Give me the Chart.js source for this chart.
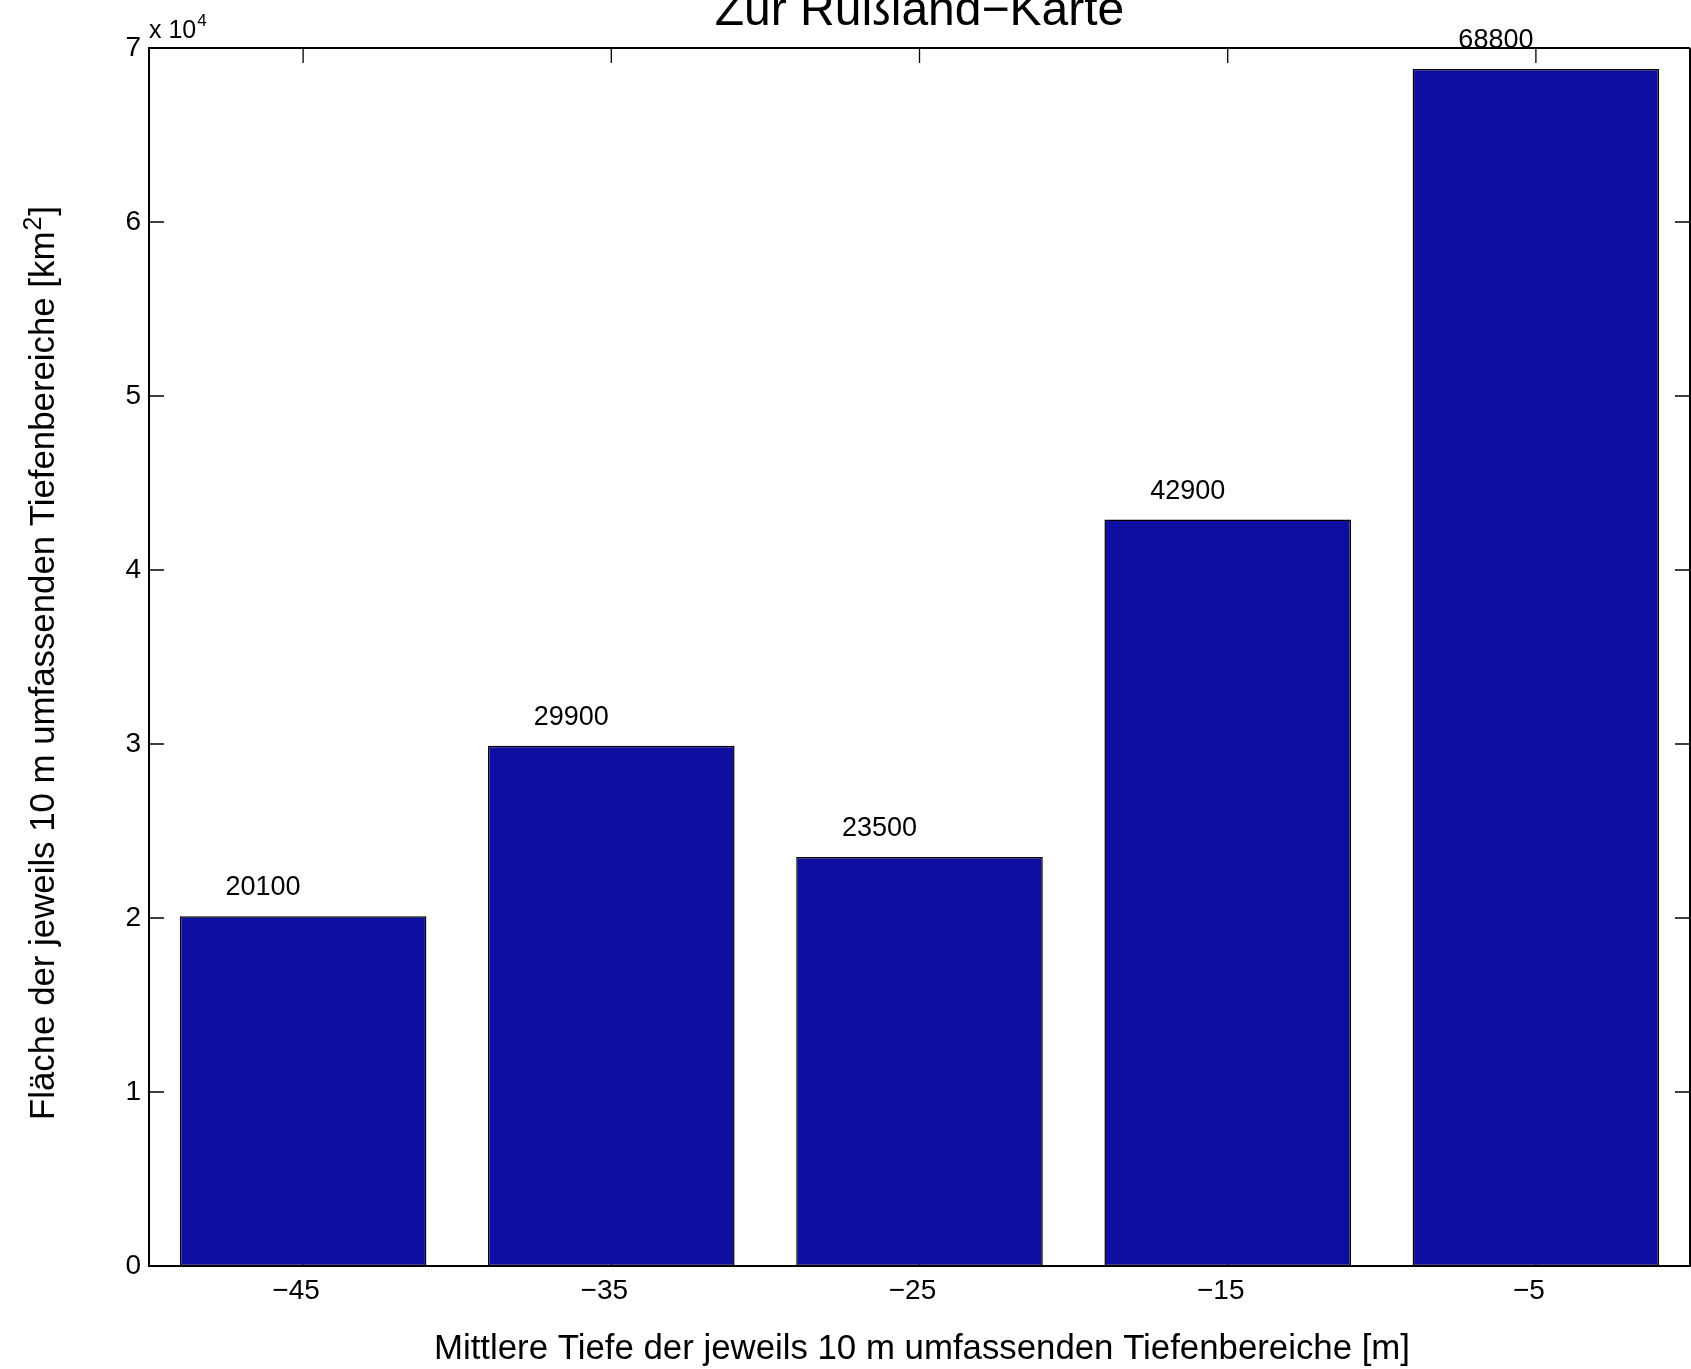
<!DOCTYPE html>
<html>
<head>
<meta charset="utf-8">
<script src="https://cdn.jsdelivr.net/npm/chart.js@4/dist/chart.umd.min.js"></script>
<style>
  body { margin: 0; background: #fff; }
  canvas { display: block; }
</style>
</head>
<body>
<canvas id="depthChart" width="1691" height="1369"></canvas>
<script>
// depth classes (centre of each 10 m band) and area per band in km^2
const depthLabels = ['\u221245', '\u221235', '\u221225', '\u221215', '\u22125'];
const areaValues = [20100, 29900, 23500, 42900, 68800];
const areaLabels = ['20100', '29900', '23500', '42900', '68800'];
const yTickStep = 10000;
const yMax = 70000;

const FONT = '"Liberation Sans", Arial, Helvetica, sans-serif';
const tickLen = 15;

// MATLAB-style frame: box, inward ticks, titles, bar value texts
const matlabFrame = {
    id: 'matlabFrame',
    beforeDatasetsDraw(chart) {
        const { ctx, chartArea: a, scales: { x, y } } = chart;
        ctx.save();
        ctx.strokeStyle = '#000';
        ctx.lineWidth = 1.3;
        ctx.beginPath();
        x.ticks.forEach((t, i) => {
            const px = x.getPixelForTick(i);
            ctx.moveTo(px, a.top); ctx.lineTo(px, a.top + tickLen);
            ctx.moveTo(px, a.bottom); ctx.lineTo(px, a.bottom - tickLen);
        });
        y.ticks.forEach((t, i) => {
            const py = y.getPixelForTick(i);
            ctx.moveTo(a.left, py); ctx.lineTo(a.left + tickLen, py);
            ctx.moveTo(a.right, py); ctx.lineTo(a.right - tickLen, py);
        });
        ctx.stroke();
        ctx.restore();
    },
    afterDatasetsDraw(chart) {
        const { ctx, chartArea: a } = chart;
        ctx.save();
        ctx.strokeStyle = '#000';
        ctx.lineWidth = 2;
        ctx.beginPath();
        ctx.moveTo(a.left, a.top); ctx.lineTo(a.right, a.top);
        ctx.moveTo(a.right, a.top); ctx.lineTo(a.right, a.bottom);
        ctx.stroke();

        ctx.fillStyle = '#000';
        // value texts above the bars
        ctx.font = '27px ' + FONT;
        ctx.textAlign = 'center';
        ctx.textBaseline = 'alphabetic';
        chart.getDatasetMeta(0).data.forEach((bar, i) => {
            ctx.fillText(areaLabels[i], bar.x - 40, bar.y - 21);
        });

        // title
        ctx.font = '48px ' + FONT;
        ctx.fillText('Zur Ru\u00dfland\u2212Karte', (a.left + a.right) / 2, 25);

        // x axis title
        ctx.font = '34.8px ' + FONT;
        ctx.textBaseline = 'middle';
        ctx.fillText('Mittlere Tiefe der jeweils 10 m umfassenden Tiefenbereiche [m]', 922, 1349);

        // y axis title, with raised exponent in km^2
        ctx.save();
        ctx.translate(42, 664);
        ctx.rotate(-Math.PI / 2);
        ctx.textAlign = 'left';
        ctx.textBaseline = 'alphabetic';
        const part1 = 'Fl\u00e4che der jeweils 10 m umfassenden Tiefenbereiche [km';
        const big = '34.8px ' + FONT, small = '25px ' + FONT;
        ctx.font = big;
        const w1 = ctx.measureText(part1).width;
        const w3 = ctx.measureText(']').width;
        ctx.font = small;
        const w2 = ctx.measureText('2').width;
        let sx = -(w1 + w2 + w3) / 2;
        const base = 12;
        ctx.font = big;
        ctx.fillText(part1, sx, base);
        ctx.font = small;
        ctx.fillText('2', sx + w1 + 1, base - 13);
        ctx.font = big;
        ctx.fillText(']', sx + w1 + w2 + 2, base);
        ctx.restore();

        // exponent marker
        ctx.textAlign = 'left';
        ctx.textBaseline = 'alphabetic';
        ctx.font = '25px ' + FONT;
        ctx.fillText('x 10', a.left, 38);
        const w = ctx.measureText('x 10').width;
        ctx.font = '17px ' + FONT;
        ctx.fillText('4', a.left + w + 1, 26);
        ctx.restore();
    }
};

const ctx = document.getElementById('depthChart').getContext('2d');
new Chart(ctx, {
    type: 'bar',
    data: {
        labels: depthLabels,
        datasets: [{
            data: areaValues,
            backgroundColor: 'rgb(14, 15, 160)',
            borderColor: '#000',
            borderWidth: 1.5,
            borderSkipped: false,
            barPercentage: 0.8,
            categoryPercentage: 1.0
        }]
    },
    options: {
        responsive: false,
        animation: false,
        layout: { padding: { top: 48, right: 1, left: 0, bottom: 0 } },
        plugins: {
            legend: { display: false },
            title: { display: false },
            tooltip: { enabled: false }
        },
        scales: {
            x: {
                offset: true,
                grid: { display: false },
                border: { display: true, color: '#000', width: 2 },
                ticks: { color: '#000', font: { family: FONT, size: 28 }, padding: 0, labelOffset: -7, maxRotation: 0 },
                afterFit(scale) { scale.height = 103; }
            },
            y: {
                min: 0,
                max: yMax,
                grid: { display: false },
                border: { display: true, color: '#000', width: 2 },
                ticks: {
                    stepSize: yTickStep,
                    color: '#000',
                    font: { family: FONT, size: 28 },
                    padding: 0,
                    callback: v => v / yTickStep
                },
                afterFit(scale) { scale.width = 149; }
            }
        }
    },
    plugins: [matlabFrame]
});
</script>
</body>
</html>
